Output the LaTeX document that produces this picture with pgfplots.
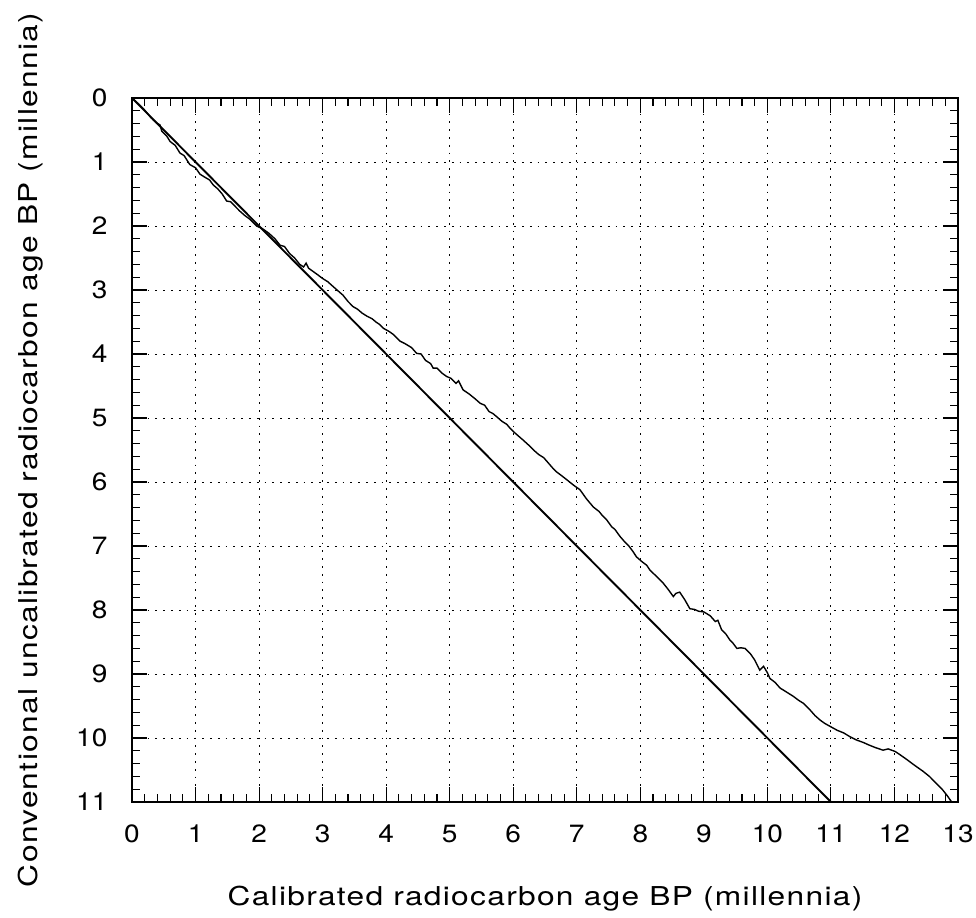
\documentclass[border=0pt]{standalone}
\usepackage{fontspec}
\setmainfont{TeX Gyre Heros}
\newfontfamily\labelfont{TeX Gyre Heros}[FakeStretch=1.22, LetterSpace=5]
\newfontfamily\tickfont{TeX Gyre Heros}[FakeStretch=1.12]
\usepackage{pgfplots}
\pgfplotsset{compat=1.18}
\usepackage{pgfplotstable}

\pgfplotstableread{
x y
0.00 0.00
0.10 0.09
0.20 0.19
0.30 0.31
0.40 0.40
0.44 0.42
0.47 0.52
0.55 0.60
0.60 0.68
0.68 0.74
0.755 0.86
0.82 0.90
0.91 1.04
1.00 1.09
1.07 1.19
1.15 1.24
1.22 1.28
1.28 1.36
1.35 1.42
1.42 1.50
1.49 1.61
1.55 1.62
1.62 1.69
1.70 1.77
1.78 1.84
1.85 1.89
1.96 2.00
2.05 2.04
2.15 2.11
2.25 2.20
2.33 2.30
2.40 2.32
2.48 2.43
2.56 2.50
2.64 2.60
2.70 2.64
2.74 2.58
2.78 2.66
2.85 2.71
2.92 2.76
3.00 2.82
3.08 2.87
3.17 2.95
3.25 3.02
3.32 3.08
3.40 3.18
3.48 3.26
3.55 3.30
3.62 3.36
3.70 3.41
3.78 3.45
3.84 3.50
3.90 3.54
3.96 3.60
4.05 3.65
4.12 3.70
4.22 3.80
4.30 3.84
4.40 3.90
4.48 3.99
4.55 4.00
4.62 4.10
4.70 4.15
4.74 4.22
4.80 4.22
4.88 4.30
4.95 4.35
5.02 4.38
5.10 4.46
5.14 4.42
5.21 4.56
5.30 4.62
5.40 4.70
5.48 4.77
5.55 4.80
5.62 4.90
5.68 4.93
5.74 4.98
5.82 5.05
5.90 5.10
5.95 5.16
6.00 5.21
6.08 5.28
6.15 5.34
6.25 5.43
6.32 5.50
6.40 5.57
6.48 5.62
6.55 5.70
6.62 5.78
6.68 5.84
6.76 5.90
6.85 5.97
6.95 6.05
7.05 6.12
7.15 6.26
7.26 6.39
7.35 6.46
7.40 6.52
7.47 6.59
7.55 6.70
7.60 6.74
7.68 6.85
7.75 6.93
7.82 7.00
7.88 7.08
7.94 7.17
8.02 7.24
8.10 7.30
8.15 7.375
8.26 7.48
8.36 7.58
8.44 7.68
8.52 7.79
8.56 7.74
8.62 7.72
8.70 7.84
8.78 7.98
8.85 7.99
8.92 8.02
9.00 8.03
9.10 8.09
9.18 8.18
9.22 8.16
9.28 8.31
9.35 8.38
9.41 8.47
9.46 8.52
9.52 8.60
9.58 8.59
9.65 8.60
9.73 8.68
9.80 8.78
9.88 8.94
9.94 8.88
10.00 8.98
10.04 9.07
10.12 9.13
10.20 9.22
10.25 9.25
10.33 9.30
10.41 9.35
10.49 9.41
10.57 9.46
10.67 9.56
10.75 9.65
10.83 9.72
10.90 9.77
10.99 9.82
11.10 9.88
11.20 9.92
11.30 9.98
11.40 10.03
11.51 10.07
11.60 10.11
11.70 10.15
11.82 10.19
11.90 10.17
12.01 10.21
12.10 10.27
12.20 10.34
12.28 10.40
12.35 10.45
12.45 10.52
12.55 10.60
12.66 10.71
12.75 10.80
12.83 10.90
12.90 11.00
}\curvedata

\pgfplotstableread{
x y
0 0
11 11
}\linedata

\begin{document}
\begin{tikzpicture}
\useasboundingbox (-66bp,-58bp) rectangle (422bp,401bp);
\begin{axis}[
  scale only axis,
  width=413bp, height=352bp,
  at={(0,0)}, anchor=south west,
  xmin=0, xmax=13, ymin=0, ymax=11,
  y dir=reverse,
  xtick={0,1,...,13}, ytick={0,1,...,11},
  minor tick num=4,
  tick align=inside,
  xtick pos=both, ytick pos=both,
  major tick length=7.5bp, minor tick length=3.8bp,
  every tick/.style={black, line width=0.55bp},
  axis line style={black, line width=0.7bp},
  grid=major,
  major grid style={black, line width=0.5bp, dash pattern=on 0.9bp off 3bp},
  /pgf/number format/assume math mode=true,
  tick label style={font=\tickfont\fontsize{12.5bp}{14bp}\selectfont},
  xticklabel style={yshift=-7.9bp},
  yticklabel style={xshift=-8.8bp},
  every axis x label/.style={at={(axis description cs:0.5,-0.147)}, anchor=base},
  every axis y label/.style={at={(axis description cs:-0.1138,0.5)}, anchor=base, rotate=90},
  label style={font=\labelfont\fontsize{13bp}{15bp}\selectfont},
  xlabel={Calibrated radiocarbon age BP (millennia)},
  ylabel={Conventional uncalibrated radiocarbon age BP (millennia)},
]
\addplot[black, line width=0.95bp, no marks] table[x=x,y=y] {\linedata};
\addplot[black, line width=0.7bp, no marks] table[x=x,y=y] {\curvedata};
\end{axis}
\end{tikzpicture}
\end{document}
